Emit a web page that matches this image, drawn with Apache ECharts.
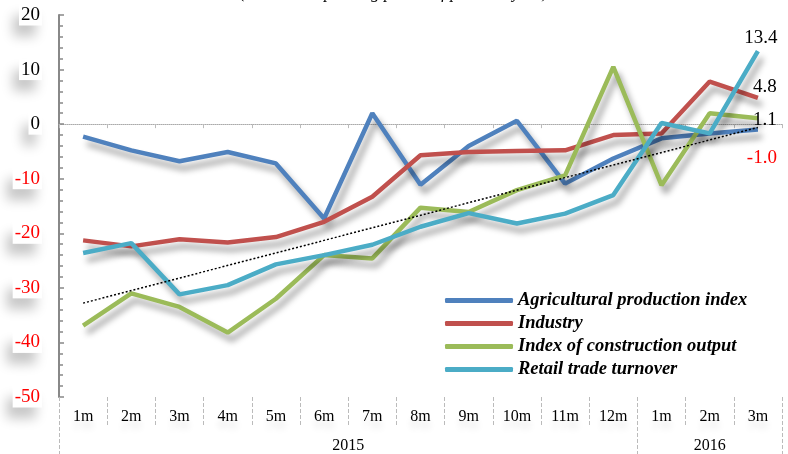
<!DOCTYPE html>
<html>
<head>
<meta charset="utf-8">
<script src="https://cdn.jsdelivr.net/npm/echarts@6/dist/echarts.min.js"></script>
<style>
html,body{margin:0;padding:0;background:#fff;}
#chart{width:788px;height:454px;}
</style>
</head>
<body>
<div id="chart"></div>
<script>
var months = ['1m','2m','3m','4m','5m','6m','7m','8m','9m','10m','11m','12m','1m','2m','3m'];
var years = ['2015','2016'];
var yearLabelPos = [6, 13.5];
var yearSeparators = [0, 12, 15];
var agricultural = [-2.3,-4.8,-6.8,-5.1,-7.2,-17.3,2.0,-11.1,-4.0,0.6,-10.9,-6.3,-2.6,-1.7,-1.0];
var industry = [-21.3,-22.4,-21.1,-21.7,-20.7,-17.9,-13.3,-5.7,-5.1,-4.9,-4.8,-2.0,-1.7,7.8,4.8];
var construction = [-36.9,-31.0,-33.5,-38.2,-32.0,-24.0,-24.6,-15.3,-16.1,-12.1,-9.4,10.5,-11.2,2.0,1.1];
var retail = [-23.6,-21.8,-31.2,-29.5,-25.7,-24.0,-22.1,-18.8,-16.3,-18.2,-16.4,-13.0,0.2,-1.7,13.4];
var trendEnds = [-32.8, -0.6];
var seriesNames = ['Agricultural production index','Industry','Index of construction output','Retail trade turnover'];
var colors = ['#4F81BD','#C0504D','#9BBB59','#4BACC6'];
var titleText = '(% to corresponding period of previous year)';

var chart = echarts.init(document.getElementById('chart'), null, {renderer:'canvas'});
var serif = '"Liberation Serif","Times New Roman",serif';
var lineShadow = {shadowColor:'rgba(0,0,0,0.38)', shadowBlur:6, shadowOffsetX:4, shadowOffsetY:7};

function mkSeries(idx, data, lbl){
  return {
    name: seriesNames[idx], type:'line', data:data, xAxisIndex:0, yAxisIndex:0,
    symbol:'none', smooth:false, z:3+idx,
    lineStyle:Object.assign({color:colors[idx], width:4.5}, lineShadow),
    itemStyle:{color:colors[idx]},
    endLabel:Object.assign({show:true, fontFamily:serif, fontSize:19, color:'#000',
      align:'center', verticalAlign:'middle', distance:0,
      formatter:function(p){ return Number(p.value).toFixed(1); }}, lbl),
    emphasis:{disabled:true}
  };
}

var option = {
  animation:false,
  color: colors,
  title:{
    text:titleText, left:'center', top:-20,
    textStyle:{fontFamily:serif, fontStyle:'italic', fontWeight:'normal', fontSize:17, color:'#000'}
  },
  legend:{
    orient:'vertical', left:440, top:286, itemGap:4, itemWidth:68, itemHeight:5,
    icon:'roundRect',
    data:seriesNames,
    textStyle:{fontFamily:serif, fontStyle:'italic', fontWeight:'bold', fontSize:18.5, color:'#000'}
  },
  grid:{left:59, right:6, top:15, bottom:57, containLabel:false},
  xAxis:[
    {
      type:'category', data:months, position:'bottom', boundaryGap:true,
      axisLine:{show:false, onZero:false},
      axisTick:{show:true, interval:0, length:30, lineStyle:{color:'#bbb', type:'dashed', width:1}},
      axisLabel:{interval:0, margin:12, fontFamily:serif, fontSize:16, color:'#000',
        textShadowColor:'rgba(0,0,0,0.12)', textShadowBlur:6, textShadowOffsetY:8},
      splitLine:{show:false}
    },
    {
      type:'category', data:months, position:'bottom', boundaryGap:true,
      axisLine:{show:true, onZero:true, lineStyle:{color:'#aaa', type:'dotted', width:1}},
      axisTick:{show:true, interval:0, length:4, inside:false, lineStyle:{color:'#bbb'}},
      axisLabel:{show:false},
      splitLine:{show:false}
    },
    {
      type:'value', min:0, max:15, position:'bottom',
      axisLine:{show:false, onZero:false},
      axisTick:{show:true, customValues:yearSeparators, length:58, lineStyle:{color:'#bbb', type:'dashed', width:1}},
      axisLabel:{show:true, customValues:yearLabelPos, margin:41, fontFamily:serif, fontSize:16, color:'#000',
        formatter:function(v){ return years[yearLabelPos.indexOf(v)]; }},
      splitLine:{show:false}
    }
  ],
  yAxis:{
    type:'value', min:-50, max:20, interval:10,
    axisLine:{show:true, onZero:false, lineStyle:{color:'#888', width:2}},
    axisTick:{show:true, inside:true, length:5, lineStyle:{color:'#888', width:1.5}},
    minorTick:{show:true, splitNumber:5, length:4, lineStyle:{color:'#888', width:1.5}},
    splitLine:{show:false},
    axisLabel:{
      margin:17, fontFamily:serif, fontSize:19,
      color:function(v){ return v < 0 ? '#FF0000' : '#000'; },
      backgroundColor:'#fff', padding:[1,2,1,2],
      shadowColor:'rgba(0,0,0,0.22)', shadowBlur:12, shadowOffsetX:-6, shadowOffsetY:11
    }
  },
  series:[
    mkSeries(0, agricultural, {color:'#FF0000', offset:[4,28]}),
    mkSeries(1, industry, {offset:[7,-11]}),
    mkSeries(2, construction, {offset:[7,2]}),
    mkSeries(3, retail, {offset:[3,-13]}),
    {
      name:'trend', type:'line', xAxisIndex:0, yAxisIndex:0,
      data:[[0, trendEnds[0]], [months.length-1, trendEnds[1]]],
      symbol:'none', z:10,
      lineStyle:{color:'#000', width:1.5, type:[2,2]},
      emphasis:{disabled:true}
    }
  ]
};
chart.setOption(option);
</script>
</body>
</html>
